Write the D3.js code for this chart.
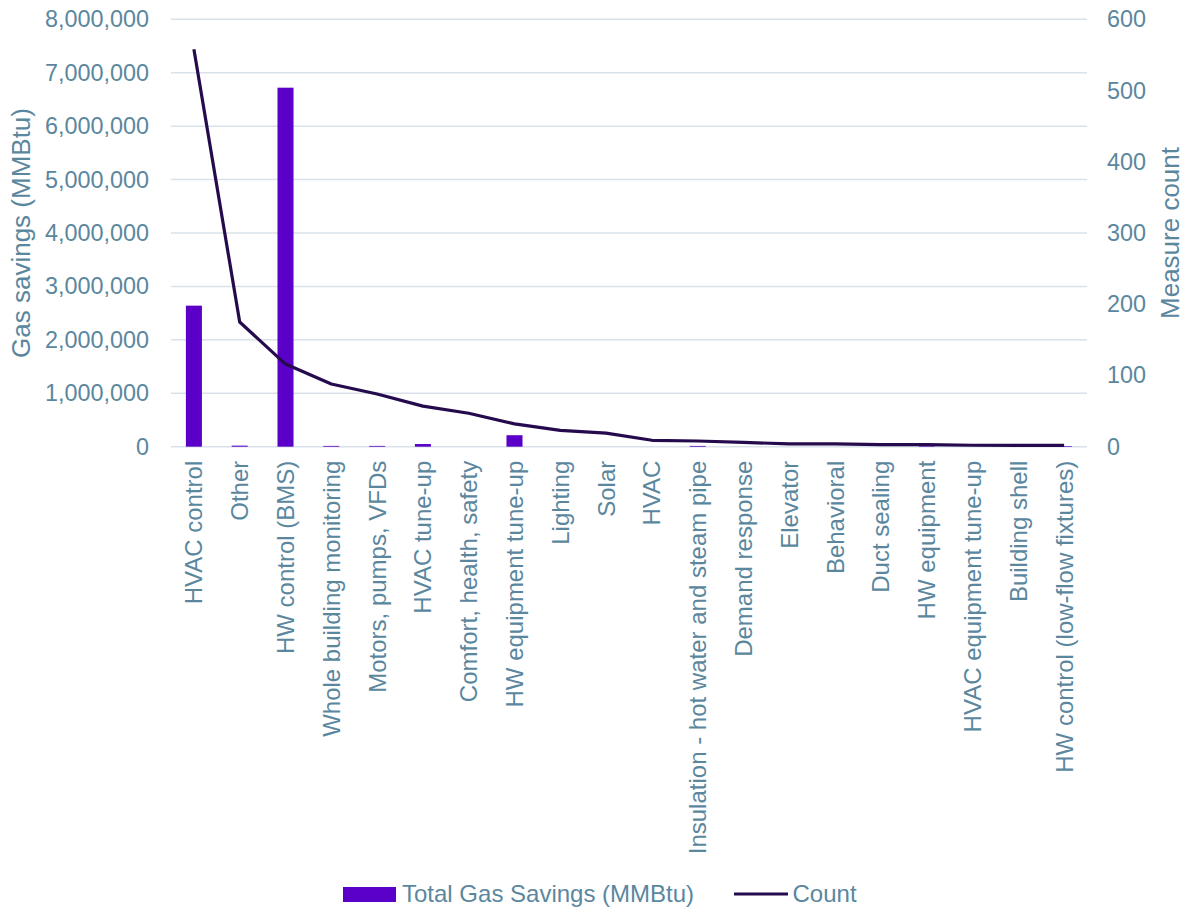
<!DOCTYPE html>
<html>
<head>
<meta charset="utf-8">
<script src="https://cdn.jsdelivr.net/npm/d3@7"></script>
<style>
  html, body { margin: 0; padding: 0; background: #ffffff; }
  svg { display: block; font-family: "Liberation Sans", Arial, sans-serif; }
</style>
</head>
<body>
<svg id="chart" width="1188" height="911"></svg>
<script>
// Measure categories, in order of measure count
const categories = [
  "HVAC control", "Other", "HW control (BMS)", "Whole building monitoring",
  "Motors, pumps, VFDs", "HVAC tune-up", "Comfort, health, safety",
  "HW equipment tune-up", "Lighting", "Solar", "HVAC",
  "Insulation - hot water and steam pipe", "Demand response", "Elevator",
  "Behavioral", "Duct sealing", "HW equipment", "HVAC equipment tune-up",
  "Building shell", "HW control (low-flow fixtures)"
];

// Total gas savings per category (MMBtu)
const gasSavings = [
  2640000, 20000, 6720000, 15000, 15000, 50000, 0, 215000, 0, 0, 0,
  15000, 0, 0, 0, 0, 10000, 0, 0, 12000
];

// Number of measures per category
const measureCount = [
  558, 175, 116, 88, 74, 57, 47, 32, 23, 19, 9, 8, 6, 4, 4, 3, 3, 2, 2, 2
];

const leftTicks = [0, 1000000, 2000000, 3000000, 4000000, 5000000, 6000000, 7000000, 8000000];
const rightTicks = [0, 100, 200, 300, 400, 500, 600];

const seriesNames = ["Total Gas Savings (MMBtu)", "Count"];
const axisTitles = ["Gas savings (MMBtu)", "Measure count"];

const textColor = "#5b879e";
const gridColor = "#d9e2ea";
const barColor = "#5b00c8";
const lineColor = "#250b4d";

const svg = d3.select("#chart");
const margin = { left: 171, right: 1087, top: 19.3, bottom: 446.7 };

const x = d3.scaleBand()
  .domain(categories)
  .range([margin.left, margin.right])
  .paddingInner(0.65)
  .paddingOuter(0.325);

const yLeft = d3.scaleLinear().domain([0, 8000000]).range([margin.bottom, margin.top]);
const yRight = d3.scaleLinear().domain([0, 600]).range([margin.bottom, margin.top]);

// Horizontal gridlines
svg.append("g")
  .selectAll("line")
  .data(leftTicks)
  .join("line")
  .attr("x1", margin.left)
  .attr("x2", margin.right)
  .attr("y1", d => yLeft(d))
  .attr("y2", d => yLeft(d))
  .attr("stroke", gridColor)
  .attr("stroke-width", 1.5);

// Left axis
const leftAxis = svg.append("g")
  .attr("transform", `translate(${margin.left},0)`)
  .call(d3.axisLeft(yLeft).tickValues(leftTicks).tickFormat(d3.format(",")).tickSize(0).tickPadding(22));
leftAxis.select(".domain").remove();
leftAxis.selectAll("text")
  .attr("fill", textColor)
  .style("font-size", "23.4px");

// Right axis
const rightAxis = svg.append("g")
  .attr("transform", `translate(${margin.right},0)`)
  .call(d3.axisRight(yRight).tickValues(rightTicks).tickSize(0).tickPadding(20));
rightAxis.select(".domain").remove();
rightAxis.selectAll("text")
  .attr("fill", textColor)
  .style("font-size", "23.4px");

// Category labels, rotated
const xAxis = svg.append("g")
  .attr("transform", `translate(0,${margin.bottom})`)
  .call(d3.axisBottom(x).tickSize(0).tickPadding(0));
xAxis.select(".domain").remove();
xAxis.selectAll(".tick text")
  .attr("fill", textColor)
  .style("font-size", "24px")
  .attr("text-anchor", "end")
  .attr("transform", "rotate(-90)")
  .attr("x", -14)
  .attr("y", 0)
  .attr("dy", "0.35em");

// Axis titles
svg.append("text")
  .attr("transform", `translate(30,${(margin.top + margin.bottom) / 2}) rotate(-90)`)
  .attr("text-anchor", "middle")
  .attr("fill", textColor)
  .style("font-size", "26px")
  .text(axisTitles[0]);

svg.append("text")
  .attr("transform", `translate(1179,${(margin.top + margin.bottom) / 2}) rotate(-90)`)
  .attr("text-anchor", "middle")
  .attr("fill", textColor)
  .style("font-size", "26px")
  .text(axisTitles[1]);

// Bars: gas savings
svg.append("g")
  .selectAll("rect")
  .data(categories.map((c, i) => ({ c, v: gasSavings[i] })))
  .join("rect")
  .attr("x", d => x(d.c))
  .attr("width", x.bandwidth())
  .attr("y", d => yLeft(d.v))
  .attr("height", d => yLeft(0) - yLeft(d.v))
  .attr("fill", barColor);

// Line: measure count
const line = d3.line()
  .x((d, i) => x(categories[i]) + x.bandwidth() / 2)
  .y(d => yRight(d));

svg.append("path")
  .datum(measureCount)
  .attr("d", line)
  .attr("fill", "none")
  .attr("stroke", lineColor)
  .attr("stroke-width", 3.2)
  .attr("stroke-linejoin", "round");

// Legend
const legend = svg.append("g");
legend.append("rect")
  .attr("x", 343).attr("y", 887).attr("width", 53).attr("height", 15)
  .attr("fill", barColor);
legend.append("text")
  .attr("x", 402).attr("y", 894).attr("dy", "0.35em")
  .attr("fill", textColor).style("font-size", "24px")
  .text(seriesNames[0]);
legend.append("line")
  .attr("x1", 734).attr("x2", 788).attr("y1", 894).attr("y2", 894)
  .attr("stroke", lineColor).attr("stroke-width", 3.2);
legend.append("text")
  .attr("x", 792.5).attr("y", 894).attr("dy", "0.35em")
  .attr("fill", textColor).style("font-size", "24px")
  .text(seriesNames[1]);
</script>
</body>
</html>
